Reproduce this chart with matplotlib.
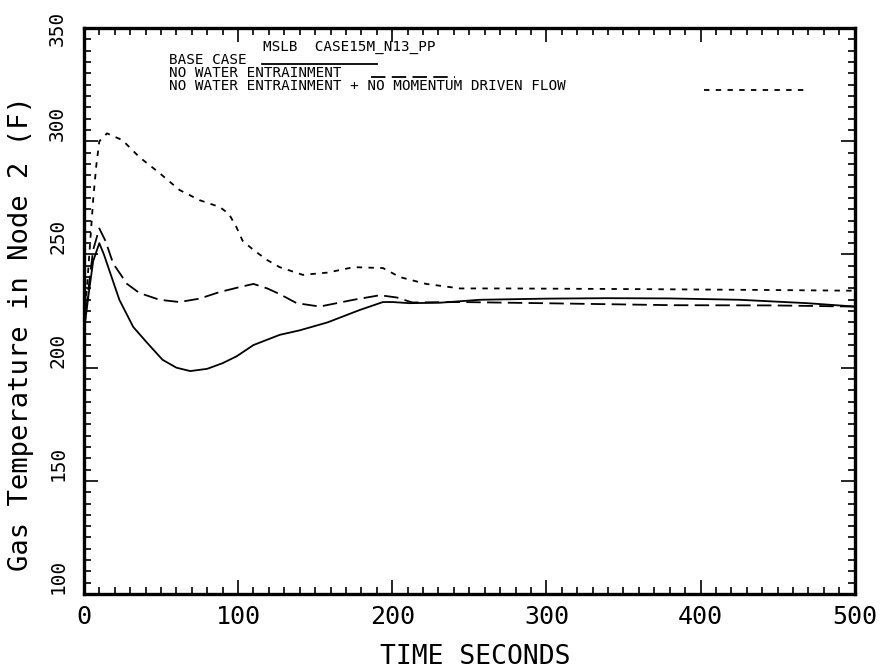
import matplotlib
matplotlib.use("Agg")
import matplotlib.pyplot as plt
from matplotlib.ticker import MultipleLocator

# ---------------- donnees
t_base = [0, 3, 6, 10, 13, 17, 23, 32, 41, 51, 60, 69, 80, 90, 99, 110, 127,
          140, 158, 179, 194, 200, 211, 231, 257, 300, 339, 380, 425, 469, 500]
T_base = [216, 232, 247, 255, 250, 242, 230, 218, 211, 203.5, 200, 198.5, 199.5,
          202, 205, 210, 214.5, 216.5, 220, 225.5, 229, 229, 228.5, 228.7, 230,
          230.5, 230.7, 230.6, 230, 228.5, 227]

t_nwe = [0, 3, 6, 10, 14, 19, 28, 36, 49, 62, 75, 88, 101, 110, 119, 127, 138,
         153, 175, 192, 203, 213, 244, 296, 382, 447, 500]
T_nwe = [216, 235, 252, 261.5, 256, 246, 237, 233, 230, 229, 230.5, 233.4, 235.6,
         237, 235, 232.5, 228.5, 227, 230, 232, 231, 228.8, 229, 228.5, 227.6,
         227.5, 227]

t_nmd = [0, 3, 6, 8, 10, 15, 25, 36, 49, 62, 75, 88, 94, 99, 103, 110, 119, 127,
         142, 158, 175, 194, 205, 222, 244, 274, 361, 447, 500]
T_nmd = [216, 245, 274, 289, 300, 303.5, 300.5, 293, 286, 278.5, 274, 271, 268,
         262, 256, 252, 247.5, 244.4, 241, 242, 244.4, 244, 240, 237, 235, 235,
         234.7, 234.3, 234]

xticks = [0, 100, 200, 300, 400, 500]
yticks = [100, 150, 200, 250, 300, 350]

title_txt = "MSLB  CASE15M_N13_PP"
labels = ["BASE CASE", "NO WATER ENTRAINMENT",
          "NO WATER ENTRAINMENT + NO MOMENTUM DRIVEN FLOW"]

mono = ["DejaVu Sans Mono"]

fig = plt.figure(figsize=(8.83, 6.69), dpi=100)
ax = fig.add_axes([0.095, 0.112, 0.873, 0.846])

lw = 1.3
long_dash = (0, (8, 3.5))
short_dash = (0, (3, 3.5))
ax.plot(t_base, T_base, color="black", lw=lw, linestyle="-")
ax.plot(t_nwe, T_nwe, color="black", lw=lw, linestyle=long_dash)
ax.plot(t_nmd, T_nmd, color="black", lw=lw, linestyle=short_dash)

ax.set_xlim(0, 500)
ax.set_ylim(100, 350)

# ticks
ax.set_xticks(xticks)
ax.set_yticks(yticks)
ax.set_xticklabels([str(v) for v in xticks], fontfamily=mono, fontsize=18)
ax.set_yticklabels([str(v) for v in yticks], fontfamily=mono, fontsize=14,
                   rotation=90, va="bottom")
ax.xaxis.set_minor_locator(MultipleLocator(10))
ax.yaxis.set_minor_locator(MultipleLocator(5))
ax.tick_params(which="both", direction="in", top=True, right=True, color="black")
ax.tick_params(which="major", length=10, width=1.2)
ax.tick_params(which="minor", length=5, width=1.2)
ax.tick_params(axis="x", which="major", pad=8)
ax.tick_params(axis="y", which="major", pad=12)

# le libelle 350 est centre sur son tick comme sur l'original
ax.get_yticklabels()[-1].set_va("center")

for sp in ax.spines.values():
    sp.set_linewidth(2.4)

ax.set_xlabel("TIME SECONDS", fontfamily=mono, fontsize=19)
ax.xaxis.set_label_coords(0.508, -0.088)
ax.set_ylabel("Gas Temperature in Node 2 (F)", fontfamily=mono, fontsize=19.5)
ax.yaxis.set_label_coords(-0.065, 0.461)

# legende dessinee a la main comme sur l'original
tr = ax.transAxes
fs = 10.3
ax.text(0.233, 0.966, title_txt, transform=tr, ha="left", va="center",
        fontfamily=mono, fontsize=fs)
ax.text(0.111, 0.943, labels[0], transform=tr, ha="left", va="center",
        fontfamily=mono, fontsize=fs)
ax.text(0.111, 0.920, labels[1], transform=tr, ha="left", va="center",
        fontfamily=mono, fontsize=fs)
ax.text(0.111, 0.897, labels[2], transform=tr, ha="left", va="center",
        fontfamily=mono, fontsize=fs)
ax.plot([0.231, 0.380], [0.936, 0.936], transform=tr, color="black", lw=lw)
ax.plot([0.373, 0.481], [0.913, 0.913], transform=tr, color="black", lw=lw,
        linestyle=long_dash)
ax.plot([0.805, 0.939], [0.891, 0.891], transform=tr, color="black", lw=lw,
        linestyle=short_dash)

fig.savefig("out.png", dpi=100)
